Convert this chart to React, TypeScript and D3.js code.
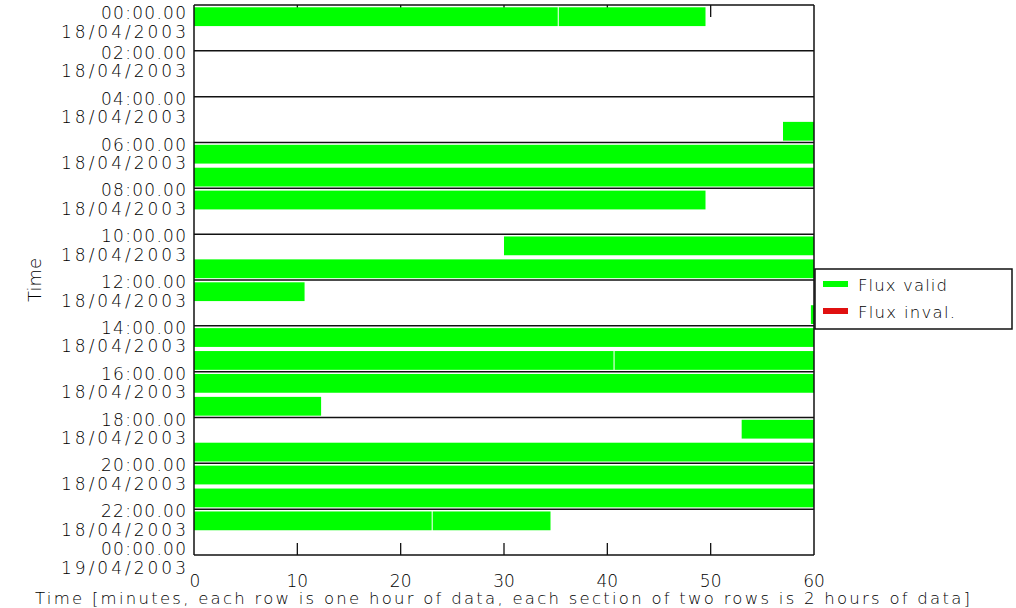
import React from 'react';
import * as d3 from 'd3';

const hourLabels = [
  '00:00.00', '02:00.00', '04:00.00', '06:00.00', '08:00.00', '10:00.00', '12:00.00',
  '14:00.00', '16:00.00', '18:00.00', '20:00.00', '22:00.00', '00:00.00',
];
const dateLabels = [
  '18/04/2003', '18/04/2003', '18/04/2003', '18/04/2003', '18/04/2003', '18/04/2003', '18/04/2003',
  '18/04/2003', '18/04/2003', '18/04/2003', '18/04/2003', '18/04/2003', '19/04/2003',
];
const xTicks = [0, 10, 20, 30, 40, 50, 60];

// valid-flux segments: row (hour of day), start minute, end minute
const segRow = [0, 0, 5, 6, 7, 8, 10, 11, 12, 13, 14, 15, 15, 16, 17, 18, 19, 20, 21, 22, 22];
const segStart = [0, 35.3, 57, 0, 0, 0, 30, 0, 0, 59.7, 0, 0, 40.7, 0, 0, 53, 0, 0, 0, 0, 23.1];
const segEnd = [35.2, 49.5, 60, 60, 60, 49.5, 60, 60, 10.7, 60, 60, 40.6, 60, 60, 12.3, 60, 60, 60, 60, 23.0, 34.5];

const legendLabels = ['Flux valid', 'Flux inval.'];
const legendColors = ['#00ff00', '#e01010'];

const xTitle = 'Time [minutes, each row is one hour of data, each section of two rows is 2 hours of data]';
const yTitle = 'Time';

export default function App() {
  const W = 1016, H = 608;
  const x = d3.scaleLinear().domain([0, 60]).range([194, 814]);
  const y = d3.scaleLinear().domain([0, 24]).range([5, 555]);
  const rowH = y(1) - y(0);
  const font = "'DejaVu Sans', sans-serif";
  const fw = 200;
  const ink = '#000';
  const sections = d3.range(0, 13);
  const innerTicks = xTicks.filter((t) => t > 0 && t < 60);

  return (
    <svg width={W} height={H} style={{ position: 'absolute', left: 0, top: 0, background: '#fff' }}>
      <rect x={0} y={0} width={W} height={H} fill="#fff" />
      {/* ticks under bars */}
      {innerTicks.map((t) => (
        <g key={'t' + t} stroke="#111" strokeWidth={1.3}>
          <line x1={x(t)} x2={x(t)} y1={y(0)} y2={y(0) + 12} />
          <line x1={x(t)} x2={x(t)} y1={y(24)} y2={y(24) - 12} />
        </g>
      ))}
      {/* bars */}
      {segRow.map((r, i) => (
        <rect
          key={'b' + i}
          x={x(segStart[i])}
          y={y(r) + rowH * 0.1}
          width={x(segEnd[i]) - x(segStart[i])}
          height={rowH * 0.82}
          fill="#00ff00"
        />
      ))}
      {/* section lines */}
      {sections.map((k) => (
        <line key={'s' + k} x1={x(0)} x2={x(60)} y1={y(2 * k)} y2={y(2 * k)} stroke="#111" strokeWidth={1.5} />
      ))}
      <line x1={x(0)} x2={x(0)} y1={y(0)} y2={y(24)} stroke="#111" strokeWidth={1.5} />
      <line x1={x(60)} x2={x(60)} y1={y(0)} y2={y(24)} stroke="#111" strokeWidth={1.5} />
      {/* y labels */}
      {sections.map((k) => {
        const b = y(2 * k);
        const tb = k === 0 ? b + 14.3 : k === 12 ? b : b + 8;
        return (
          <g key={'yl' + k} fontFamily={font} fontWeight={fw} fontSize={17} fill={ink} textAnchor="end">
            <text x={186} y={tb} textLength={85} lengthAdjust="spacing">{hourLabels[k]}</text>
            <text x={186} y={tb + 18.5} textLength={125} lengthAdjust="spacing">{dateLabels[k]}</text>
          </g>
        );
      })}
      {/* x tick labels */}
      {xTicks.map((t) => (
        <text key={'xl' + t} x={x(t) + (t === 0 ? 1 : 0)} y={586.5} fontFamily={font} fontWeight={fw} fontSize={17} fill={ink} textAnchor="middle">
          {String(t)}
        </text>
      ))}
      {/* axis titles */}
      <text x={35} y={603.5} fontFamily={font} fontWeight={fw} fontSize={16.5} fill={ink} textLength={935} lengthAdjust="spacing">
        {xTitle}
      </text>
      <text
        transform={`translate(41,280) rotate(-90)`}
        textAnchor="middle"
        fontFamily={font}
        fontWeight={fw}
        fontSize={18}
        fill={ink}
      >
        {yTitle}
      </text>
      {/* legend */}
      <rect x={815} y={269} width={197} height={60} fill="#fff" stroke="#111" strokeWidth={1.5} />
      {legendLabels.map((l, i) => (
        <g key={'lg' + i}>
          <rect x={823} y={281 + i * 27} width={25} height={6} fill={legendColors[i]} />
          <text x={858} y={291 + i * 27} fontFamily={font} fontWeight={fw} fontSize={16.5} fill={ink} textLength={i === 0 ? 89 : 97} lengthAdjust="spacing">
            {l}
          </text>
        </g>
      ))}
    </svg>
  );
}
